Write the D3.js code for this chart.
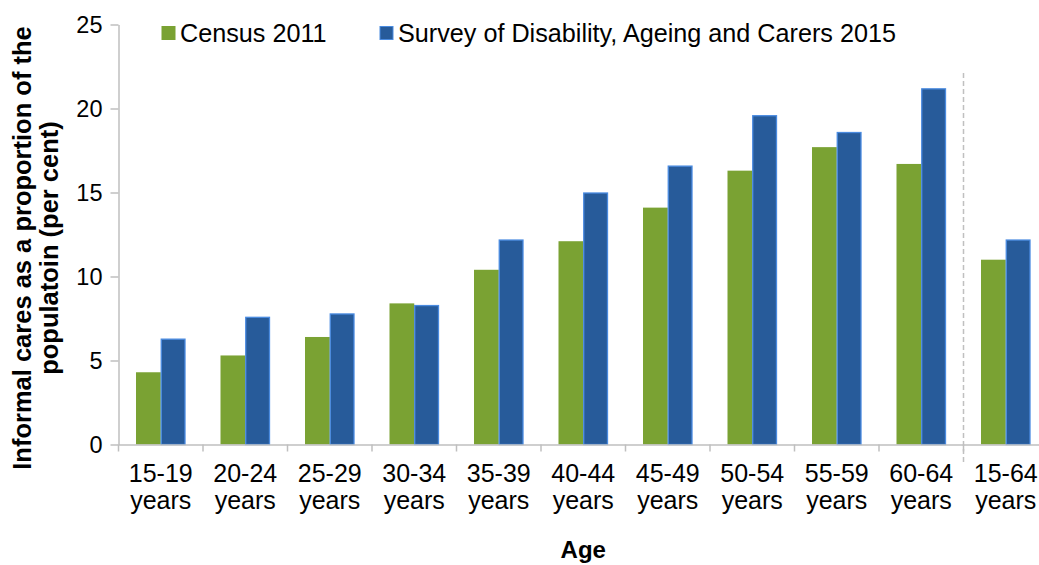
<!DOCTYPE html>
<html>
<head>
<meta charset="utf-8">
<script src="https://cdn.jsdelivr.net/npm/d3@7"></script>
<style>
  html, body { margin: 0; padding: 0; background: #fff; }
  svg { display: block; font-family: "Liberation Sans", Arial, sans-serif; }
</style>
</head>
<body>
<svg id="chart" width="1039" height="565"></svg>
<script>
const categories = ["15-19 years","20-24 years","25-29 years","30-34 years","35-39 years","40-44 years","45-49 years","50-54 years","55-59 years","60-64 years","15-64 years"];
const census2011 = [4.3, 5.3, 6.4, 8.4, 10.4, 12.1, 14.1, 16.3, 17.7, 16.7, 11.0];
const sdac2015 = [6.3, 7.6, 7.8, 8.3, 12.2, 15.0, 16.6, 19.6, 18.6, 21.2, 12.2];
const seriesNames = ["Census 2011", "Survey of Disability, Ageing and Carers 2015"];
const yTicks = [0, 5, 10, 15, 20, 25];

const colors = ["#7aa233", "#275b9a"];
const strokes = [null, "#4a8be0"];

const svg = d3.select("#chart");
const mLeft = 118.5, mRight = 1048, mTop = 24.5, mBottom = 444.5;

const x0 = d3.scaleBand().domain(categories).range([mLeft, mRight]).paddingInner(0).paddingOuter(0);
const x1 = d3.scaleBand().domain(seriesNames).range([0, x0.bandwidth()]).paddingInner(0).paddingOuter(0.707);
const y = d3.scaleLinear().domain([0, 25]).range([mBottom, mTop]);

const data = categories.map((c, i) => ({cat: c, vals: [census2011[i], sdac2015[i]]}));

// bars
const g = svg.append("g");
data.forEach(d => {
  d.vals.forEach((v, j) => {
    const r = g.append("rect")
      .attr("x", x0(d.cat) + x1(seriesNames[j]))
      .attr("y", y(v))
      .attr("width", x1.bandwidth())
      .attr("height", y(0) - y(v))
      .attr("fill", colors[j]);
    if (strokes[j]) {
      r.attr("x", x0(d.cat) + x1(seriesNames[j]) + 0.5)
       .attr("y", y(v) + 0.5)
       .attr("width", x1.bandwidth() - 1)
       .attr("height", y(0) - y(v) - 0.5)
       .attr("stroke", strokes[j]).attr("stroke-width", 1.3);
    }
  });
});

// y axis
const yAxis = d3.axisLeft(y).tickValues(yTicks).tickSize(8).tickSizeOuter(0).tickPadding(8);
const ya = svg.append("g").attr("transform", `translate(${mLeft},0)`).call(yAxis);
ya.select(".domain").attr("stroke", "#bfbfbf").attr("stroke-width", 1.5);
ya.selectAll(".tick line").attr("stroke", "#bfbfbf").attr("stroke-width", 1.5);
ya.selectAll(".tick text").attr("font-size", 23.5).attr("fill", "#000").attr("font-family", "Liberation Sans, Arial, sans-serif");

// x axis
const xAxis = d3.axisBottom(x0).tickSize(0).tickFormat("");
const xa = svg.append("g").attr("transform", `translate(0,${mBottom})`).call(xAxis);
xa.select(".domain").attr("stroke", "#bfbfbf").attr("stroke-width", 1.5);
const bounds = categories.map(c => x0(c)).concat([mRight]);
xa.selectAll(".bt").data(bounds).enter().append("line")
  .attr("x1", d => d).attr("x2", d => d).attr("y1", 0).attr("y2", 7)
  .attr("stroke", "#bfbfbf").attr("stroke-width", 1.5);

// x labels two lines
categories.forEach(c => {
  const parts = c.split(" ");
  const cx = x0(c) + x0.bandwidth() / 2;
  const t = svg.append("text")
    .attr("text-anchor", "middle")
    .attr("font-size", 25)
    .attr("fill", "#000");
  t.append("tspan").attr("x", cx).attr("y", 482).text(parts[0]);
  t.append("tspan").attr("x", cx).attr("y", 509).text(parts[1]);
});

// dashed separator between 60-64 and 15-64
const sepX = x0(categories[10]);
svg.append("line")
  .attr("x1", sepX).attr("x2", sepX).attr("y1", 73).attr("y2", 465)
  .attr("stroke", "#c0c0c0").attr("stroke-width", 1.5).attr("stroke-dasharray", "5,3");

// legend
const legendItems = [{x: 162, name: seriesNames[0]}, {x: 380, name: seriesNames[1]}];
legendItems.forEach((it, j) => {
  svg.append("rect").attr("x", it.x).attr("y", 26.5).attr("width", 13).attr("height", 13)
    .attr("fill", colors[j]).attr("stroke", strokes[j] || colors[j]).attr("stroke-width", 1);
  svg.append("text").attr("x", it.x + 18).attr("y", 42)
    .attr("font-size", 25.2).attr("fill", "#000").text(it.name);
});

// y title
const yt = svg.append("text")
  .attr("transform", `translate(36,248) rotate(-90)`)
  .attr("text-anchor", "middle")
  .attr("font-size", 25.5).attr("font-weight", "bold").attr("fill", "#000");
yt.append("tspan").attr("x", 0).attr("y", -5).text("Informal cares as a proportion of the");
yt.append("tspan").attr("x", 0).attr("y", 22).text("populatoin (per cent)");

// x title
svg.append("text").attr("x", (mLeft + mRight) / 2).attr("y", 558)
  .attr("text-anchor", "middle").attr("font-size", 24).attr("font-weight", "bold").attr("fill", "#000")
  .text("Age");
</script>
</body>
</html>
